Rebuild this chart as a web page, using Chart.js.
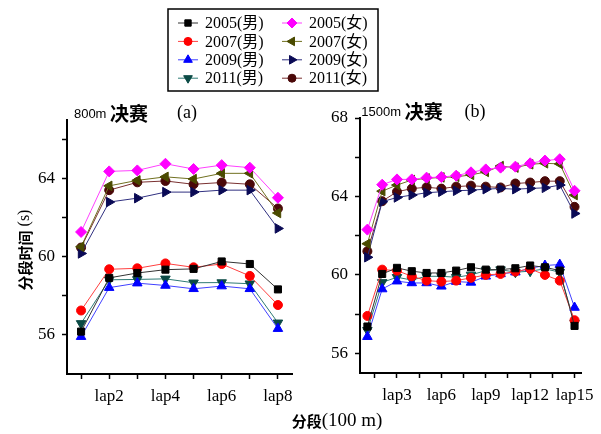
<!DOCTYPE html>
<html>
<head>
<meta charset="utf-8">
<script src="https://cdn.jsdelivr.net/npm/chart.js@4/dist/chart.umd.min.js"></script>
<style>
  html, body { margin: 0; padding: 0; background: #fff; }
  #wrap { position: relative; width: 601px; height: 434px; }
  #wrap canvas { position: absolute; left: 0; top: 0; }
</style>
</head>
<body>
<div id="wrap">
  <canvas id="chart_800" width="601" height="434"></canvas>
  <canvas id="chart_1500" width="601" height="434"></canvas>
</div>
<script>
'use strict'

// lap numbers (x values)
const laps800 = [1, 2, 3, 4, 5, 6, 7, 8];
const laps1500 = [1, 2, 3, 4, 5, 6, 7, 8, 9, 10, 11, 12, 13, 14, 15];

// x axis ticks: labelled ones and unlabelled minor ones
const xTicks800 = [1, 2, 3, 4, 5, 6, 7, 8];
const xLabels800 = [2, 4, 6, 8];
const xTicks1500 = [1.5, 3, 4.5, 6, 7.5, 9, 10.5, 12, 13.5, 15];
const xLabels1500 = [3, 6, 9, 12, 15];

// y axis ticks
const yTicks800 = [56, 58, 60, 62, 64, 66];
const yTicks1500 = [56, 58, 60, 62, 64, 66, 68];
const yLabels = [56, 60, 64, 68];

const seriesNames = ['2005(男)', '2007(男)', '2009(男)', '2011(男)', '2005(女)', '2007(女)', '2009(女)', '2011(女)'];

// 800m final, split times (s)
const m2005_800 = [56.17, 58.92, 59.17, 59.34, 59.38, 59.76, 59.63, 58.33];
const m2007_800 = [57.25, 59.36, 59.41, 59.66, 59.46, 59.63, 59.02, 57.53];
const m2009_800 = [55.91, 58.42, 58.65, 58.53, 58.36, 58.50, 58.36, 56.32];
const m2011_800 = [56.59, 58.82, 58.84, 58.87, 58.67, 58.68, 58.62, 56.62];
const w2005_800 = [61.27, 64.37, 64.42, 64.76, 64.49, 64.69, 64.56, 63.02];
const w2007_800 = [60.51, 63.63, 63.91, 64.09, 63.98, 64.27, 64.27, 62.24];
const w2009_800 = [60.17, 62.80, 63.00, 63.31, 63.31, 63.41, 63.41, 61.45];
const w2011_800 = [60.47, 63.41, 63.81, 63.88, 63.71, 63.80, 63.71, 62.47];

// 1500m final, split times (s)
const m2005_1500 = [57.37, 60.05, 60.36, 60.19, 60.10, 60.10, 60.22, 60.39, 60.27, 60.27, 60.34, 60.48, 60.39, 60.22, 57.40];
const m2007_1500 = [57.91, 60.27, 60.22, 59.93, 59.71, 59.66, 59.71, 59.85, 60.00, 60.05, 60.17, 60.31, 60.00, 59.71, 57.69];
const m2009_1500 = [56.85, 59.28, 59.68, 59.59, 59.59, 59.42, 59.66, 59.62, 59.93, 60.05, 60.14, 60.34, 60.48, 60.53, 58.34];
const m2011_1500 = [57.18, 59.62, 59.88, 59.74, 59.93, 59.93, 59.88, 60.00, 60.22, 60.27, 60.14, 60.19, 60.31, 60.14, 57.54];
const w2005_1500 = [62.31, 64.60, 64.87, 64.87, 64.96, 64.99, 65.06, 65.23, 65.38, 65.47, 65.52, 65.69, 65.83, 65.90, 64.29];
const w2007_1500 = [61.59, 64.27, 64.58, 64.84, 64.92, 64.97, 65.00, 65.10, 65.25, 65.55, 65.47, 65.64, 65.69, 65.66, 64.07];
const w2009_1500 = [60.90, 63.73, 63.95, 64.07, 64.19, 64.24, 64.29, 64.32, 64.37, 64.41, 64.37, 64.41, 64.44, 64.58, 63.13];
const w2011_1500 = [61.21, 63.76, 64.24, 64.40, 64.47, 64.40, 64.50, 64.55, 64.50, 64.46, 64.66, 64.71, 64.78, 64.78, 63.47];

const serif = "'Liberation Serif', 'Noto Sans CJK SC', serif";
const cjk = "'Noto Sans CJK SC', sans-serif";

// marker look per series (same order as seriesNames)
const styles = [
    { color: '#000000', line: '#333333', point: 'rect', rot: 0, r: 5 },
    { color: '#ff0000', line: '#ff4040', point: 'circle', rot: 0, r: 4.5 },
    { color: '#0000ff', line: '#4040ff', point: 'triangle', rot: 0, r: 5.5 },
    { color: '#0b4a45', line: '#2e7a74', point: 'triangle', rot: 180, r: 5.5 },
    { color: '#ff00ff', line: '#ff40ff', point: 'rectRot', rot: 0, r: 5.5 },
    { color: '#4a4a00', line: '#707020', point: 'triangle', rot: 270, r: 5.5 },
    { color: '#0a0a55', line: '#303080', point: 'triangle', rot: 90, r: 5.5 },
    { color: '#4a0808', line: '#7a3030', point: 'circle', rot: 0, r: 4.5 },
];

const textWidths = (ctx, parts) => parts.map(p => { ctx.font = p.font; return ctx.measureText(p.text).width; });

const drawParts = (ctx, parts, x, y) => {
    const w = textWidths(ctx, parts);
    let cx = x - w.reduce((a, b) => a + b, 0) / 2;
    ctx.textAlign = 'left';
    ctx.textBaseline = 'middle';
    parts.forEach((p, i) => { ctx.font = p.font; ctx.fillText(p.text, cx, y); cx += w[i]; });
};

const textPlugin = (items) => ({
    id: 'pageText',
    afterDraw(chart) {
        const ctx = chart.ctx;
        ctx.save();
        ctx.fillStyle = '#000';
        items.forEach(it => {
            ctx.save();
            ctx.translate(it.x, it.y);
            if (it.rotate) ctx.rotate(it.rotate);
            drawParts(ctx, it.parts, 0, 0);
            ctx.restore();
        });
        ctx.restore();
    }
});

// boxed two column legend, first column men, second women
const legendPlugin = {
    id: 'boxLegend',
    afterDraw(chart) {
        const ctx = chart.ctx;
        const box = { x: 168, y: 9, w: 210, h: 82 };
        ctx.save();
        ctx.strokeStyle = '#000';
        ctx.lineWidth = 1.5;
        ctx.strokeRect(box.x, box.y, box.w, box.h);
        chart.data.datasets.forEach((ds, i) => {
            const col = Math.floor(i / 4), row = i % 4;
            const mx = 188 + col * 104, my = 23 + row * 18.4;
            ctx.strokeStyle = ds.borderColor;
            ctx.lineWidth = 1;
            ctx.beginPath();
            ctx.moveTo(mx - 10, my);
            ctx.lineTo(mx + 10, my);
            ctx.stroke();
            ctx.fillStyle = ds.pointBackgroundColor;
            ctx.strokeStyle = ds.pointBorderColor;
            Chart.helpers.drawPoint(ctx, {
                pointStyle: ds.pointStyle, rotation: ds.pointRotation,
                radius: ds.pointRadius - 0.5, borderWidth: 1
            }, mx, my);
            ctx.fillStyle = '#000';
            ctx.font = '16px ' + serif;
            ctx.textAlign = 'left';
            ctx.textBaseline = 'middle';
            ctx.fillText(ds.label, mx + 17, my + 1);
        });
        ctx.restore();
    }
};

const makeDatasets = (laps, series) => series.map((vals, i) => ({
    label: seriesNames[i],
    data: laps.map((x, k) => ({ x, y: vals[k] })),
    borderColor: styles[i].line,
    borderWidth: 1,
    backgroundColor: styles[i].color,
    pointBackgroundColor: styles[i].color,
    pointBorderColor: styles[i].color,
    pointBorderWidth: 1,
    pointStyle: styles[i].point,
    pointRotation: styles[i].rot,
    pointRadius: styles[i].r,
    tension: 0,
}));

const axisGrid = { drawOnChartArea: false, drawTicks: true, tickLength: 5, tickColor: '#000', tickWidth: 1.5 };
const axisBorder = { display: true, color: '#000', width: 2 };

const makeChart = (id, cfg) => new Chart(document.getElementById(id).getContext('2d'), {
    type: 'line',
    data: { datasets: makeDatasets(cfg.laps, cfg.series) },
    options: {
        responsive: false,
        animation: false,
        events: [],
        layout: { autoPadding: false, padding: cfg.padding },
        plugins: { legend: { display: false }, tooltip: { enabled: false } },
        scales: {
            x: {
                type: 'linear',
                min: cfg.xMin, max: cfg.xMax,
                grid: axisGrid, border: axisBorder,
                afterBuildTicks: axis => { axis.ticks = cfg.xTicks.map(v => ({ value: v })); },
                afterFit: scale => { scale.height = cfg.xHeight; },
                ticks: {
                    autoSkip: false, maxRotation: 0, padding: 7, color: '#000',
                    font: { family: serif, size: 17 },
                    callback: v => cfg.xLabels.includes(v) ? 'lap' + v : ''
                }
            },
            y: {
                min: cfg.yMin, max: cfg.yMax,
                grid: axisGrid, border: axisBorder,
                afterBuildTicks: axis => { axis.ticks = cfg.yTicks.map(v => ({ value: v })); },
                afterFit: scale => { scale.width = cfg.yWidth; },
                ticks: {
                    autoSkip: false, padding: 7, color: '#000',
                    font: { family: serif, size: 17 },
                    callback: v => yLabels.includes(v) ? String(v) : ''
                }
            }
        }
    },
    plugins: cfg.plugins
});

window.onload = () => {
    makeChart('chart_800', {
        laps: laps800,
        series: [m2005_800, m2007_800, m2009_800, m2011_800, w2005_800, w2007_800, w2009_800, w2011_800],
        padding: { left: 0, top: 120, right: 309, bottom: 0 },
        xMin: 0.5, xMax: 8.5, xTicks: xTicks800, xLabels: xLabels800, xHeight: 60,
        yMin: 54, yMax: 67, yTicks: yTicks800, yWidth: 67,
        plugins: [legendPlugin, textPlugin([
            { x: 111, y: 114, parts: [{ text: '800m ', font: '13px "Liberation Sans"' }, { text: '决赛', font: 'bold 19px ' + cjk }] },
            { x: 187, y: 113, parts: [{ text: '(a)', font: '18px ' + serif }] },
            { x: 25, y: 250, rotate: -Math.PI / 2, parts: [{ text: '分段时间', font: 'bold 15px ' + cjk }, { text: ' (s)', font: '16px ' + serif }] },
            { x: 337, y: 421, parts: [{ text: '分段', font: 'bold 15px ' + cjk }, { text: '(100 m)', font: '19px ' + serif }] },
        ])]
    });

    makeChart('chart_1500', {
        laps: laps1500,
        series: [m2005_1500, m2007_1500, m2009_1500, m2011_1500, w2005_1500, w2007_1500, w2009_1500, w2011_1500],
        padding: { left: 300, top: 118, right: 17, bottom: 0 },
        xMin: 0.5, xMax: 15.5, xTicks: xTicks1500, xLabels: xLabels1500, xHeight: 61,
        yMin: 55, yMax: 68, yTicks: yTicks1500, yWidth: 60,
        plugins: [textPlugin([
            { x: 402, y: 112, parts: [{ text: '1500m ', font: '13px "Liberation Sans"' }, { text: '决赛', font: 'bold 19px ' + cjk }] },
            { x: 475, y: 112, parts: [{ text: '(b)', font: '18px ' + serif }] },
        ])]
    });
};
</script>
</body>
</html>
